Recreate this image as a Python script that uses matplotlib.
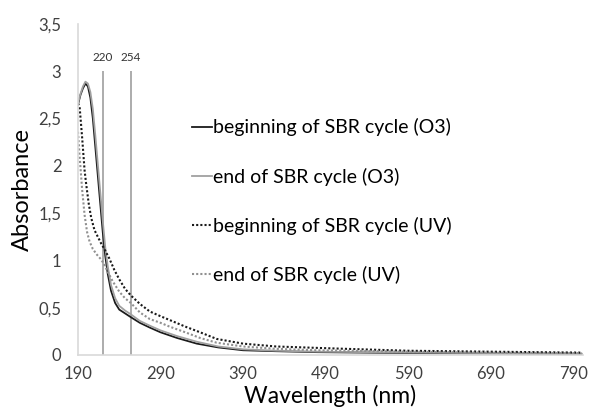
import matplotlib.pyplot as plt
from matplotlib.ticker import FuncFormatter

plt.rcParams['font.family'] = ['Lato', 'DejaVu Sans']

# comprimentos de onda (nm) e absorbancias
wl_o3_ini = [190, 193, 196, 199, 202, 205, 208, 211, 214, 217, 220, 223, 226, 230, 235, 240,
             247, 254, 265, 277, 290, 310, 334, 360, 390, 430, 480, 540, 600, 700, 800]
abs_o3_ini = [2.65, 2.75, 2.82, 2.87, 2.84, 2.72, 2.5, 2.2, 1.9, 1.6, 1.3, 1.05, 0.86, 0.68, 0.55, 0.48,
              0.44, 0.40, 0.34, 0.29, 0.24, 0.18, 0.12, 0.08, 0.05, 0.04, 0.03, 0.025, 0.02, 0.015, 0.01]

wl_o3_fim = [190, 193, 196, 199, 202, 205, 208, 211, 214, 217, 220, 223, 226, 230, 235, 240,
             247, 254, 265, 277, 290, 310, 334, 360, 390, 430, 480, 540, 600, 700, 800]
abs_o3_fim = [2.66, 2.76, 2.84, 2.89, 2.87, 2.78, 2.6, 2.32, 2.02, 1.72, 1.42, 1.14, 0.94, 0.74, 0.6, 0.52,
              0.47, 0.43, 0.36, 0.31, 0.26, 0.2, 0.14, 0.09, 0.06, 0.045, 0.035, 0.03, 0.025, 0.02, 0.015]

wl_uv_ini = [190, 192, 195, 198, 200, 203, 206, 210, 214, 218, 222, 228, 234, 240, 247, 254,
             265, 277, 290, 301, 320, 338, 358, 390, 430, 480, 515, 590, 690, 800]
abs_uv_ini = [2.66, 2.62, 2.3, 1.95, 1.8, 1.6, 1.45, 1.32, 1.25, 1.18, 1.12, 1.02, 0.9, 0.8, 0.7, 0.63,
              0.54, 0.46, 0.41, 0.37, 0.3, 0.24, 0.17, 0.12, 0.09, 0.075, 0.065, 0.045, 0.035, 0.025]

wl_uv_fim = [190, 192, 195, 198, 201, 204, 208, 213, 217, 221, 226, 232, 240, 247, 254,
             265, 277, 290, 301, 320, 338, 358, 390, 430, 480, 515, 590, 690, 800]
abs_uv_fim = [2.36, 2.1, 1.75, 1.48, 1.3, 1.2, 1.12, 1.06, 1.02, 0.97, 0.88, 0.78, 0.67, 0.6, 0.55,
              0.45, 0.38, 0.34, 0.3, 0.24, 0.18, 0.13, 0.09, 0.065, 0.05, 0.045, 0.035, 0.025, 0.02]

linhas_ref = [220, 254]

fig = plt.figure(figsize=(5.9, 4.17), dpi=100)
ax = fig.add_axes([0.1322, 0.1487, 0.856, 0.7938])

ax.plot(wl_o3_ini, abs_o3_ini, color='#1a1a1a', lw=1.3, label='beginning of SBR cycle (O3)')
ax.plot(wl_o3_fim, abs_o3_fim, color='#a0a0a0', lw=1.3, label='end of SBR cycle (O3)')
ax.plot(wl_uv_ini, abs_uv_ini, color='#1a1a1a', lw=1.5, ls=(0, (1, 1)),
        label='beginning of SBR cycle (UV)')
ax.plot(wl_uv_fim, abs_uv_fim, color='#909090', lw=1.5, ls=(0, (1, 1)),
        label='end of SBR cycle (UV)')

# linhas verticais em 220 e 254 nm
for w in linhas_ref:
    ax.vlines(w, 0, 3, color='#a6a6a6', lw=1.3, zorder=1)
    ax.text(w, 3.09, str(w), ha='center', va='bottom', fontsize=8.5, color='#333333')

ax.set_xlim(190, 802)
ax.set_ylim(0, 3.5)
ax.set_xticks(range(190, 791, 100))
ax.set_yticks([0, 0.5, 1, 1.5, 2, 2.5, 3, 3.5])
ax.yaxis.set_major_formatter(FuncFormatter(lambda v, p: ('%g' % v).replace('.', ',')))
ax.tick_params(length=0, labelsize=12, colors='#404040')
ax.tick_params(axis='y', pad=12)
ax.tick_params(axis='x', pad=8)

for s in ['top', 'right']:
    ax.spines[s].set_visible(False)
for s in ['left', 'bottom']:
    ax.spines[s].set_color('#d9d9d9')
    ax.spines[s].set_linewidth(1.2)

ax.set_xlabel('Wavelength (nm)', fontsize=16.5, labelpad=2)
ax.set_ylabel('Absorbance', fontsize=17, labelpad=4)

ax.legend(loc='upper left', bbox_to_anchor=(0.225, 0.715), frameon=False, fontsize=14,
          handlelength=1.05, handletextpad=0.05, labelspacing=1.6, borderaxespad=0,
          borderpad=0)

fig.savefig('out.png', dpi=100)
